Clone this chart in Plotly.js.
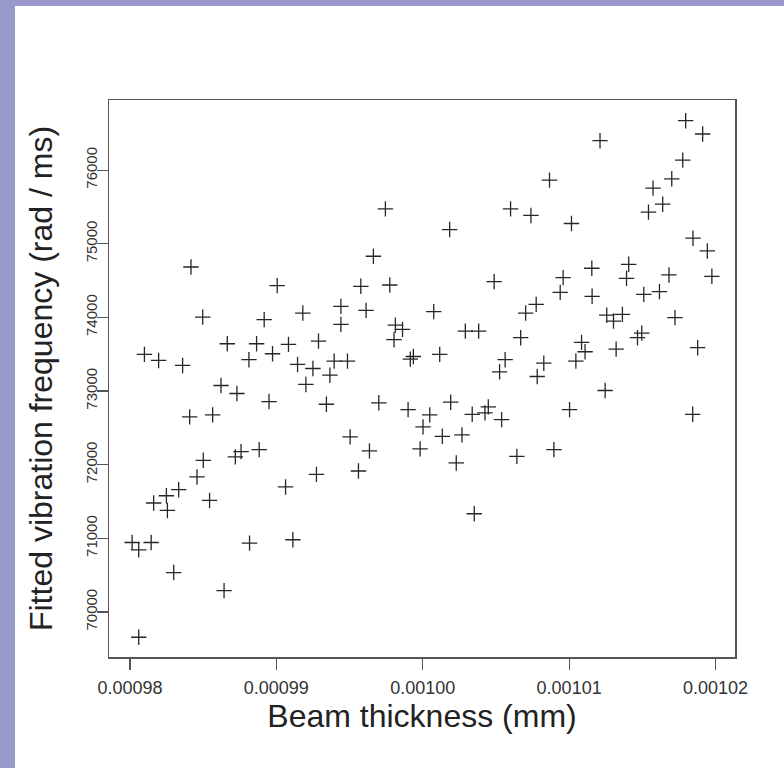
<!DOCTYPE html>
<html>
<head>
<meta charset="utf-8">
<script src="https://cdn.plot.ly/plotly-3.0.1.min.js"></script>
<style>
  html, body { margin: 0; padding: 0; width: 784px; height: 768px; background: #9999cc; overflow: hidden; }
  #chart { position: absolute; left: 15px; top: 6px; width: 769px; height: 762px; background: #ffffff; }
</style>
</head>
<body>
<div id="chart"></div>
<script>
// Beam thickness (mm)
const thickness = [
  0.00098099, 0.00098196, 0.00098360, 0.00098417, 0.00098497, 0.00098622, 0.00098665, 0.00098731,
  0.00098813, 0.00098865, 0.00098917, 0.00098974, 0.00099006, 0.00099083, 0.00099145, 0.00099181,
  0.00099202, 0.00099250, 0.00099288, 0.00099366, 0.00099395, 0.00099441, 0.00099441, 0.00099486,
  0.00099577, 0.00099613, 0.00099663, 0.00099745, 0.00099775, 0.00099813, 0.00099862, 0.00099804,
  0.00099915, 0.00099936, 0.00100184, 0.00100075, 0.00100116, 0.00100291, 0.00100382, 0.00100488,
  0.00100600, 0.00100739, 0.00100866, 0.00101016, 0.00101211, 0.00101796, 0.00101912, 0.00101776,
  0.00101701, 0.00101573, 0.00101639, 0.00101542, 0.00101846, 0.00101944, 0.00101975, 0.00101682,
  0.00101407, 0.00101392, 0.00101155, 0.00100959, 0.00100939, 0.00101157, 0.00100775, 0.00100703,
  0.00100669, 0.00101510, 0.00101617, 0.00101257, 0.00101303, 0.00101364, 0.00101723, 0.00101496,
  0.00101467, 0.00101085, 0.00101109, 0.00101321, 0.00101878, 0.00100563, 0.00100525, 0.00100827,
  0.00100782, 0.00101046, 0.00101246, 0.00098950, 0.00098408, 0.00098565, 0.00099342, 0.00099700,
  0.00099900, 0.00099504, 0.00099636, 0.00099561, 0.00099274, 0.00099063, 0.00099113, 0.00098817,
  0.00098883, 0.00098720, 0.00098759, 0.00098501, 0.00098458, 0.00098333, 0.00098249, 0.00098162,
  0.00098256, 0.00098544, 0.00098015, 0.00098060, 0.00098145, 0.00098299, 0.00098643, 0.00098060,
  0.00100048, 0.00100191, 0.00100002, 0.00099982, 0.00100134, 0.00100268, 0.00100229, 0.00100338,
  0.00100425, 0.00100448, 0.00100539, 0.00100643, 0.00100896, 0.00101003, 0.00100352, 0.00101844
];
// Fitted vibration frequency (rad / ms)
const frequency = [
  73497, 73415, 73347, 74684, 74004, 73075, 73642, 72966,
  73425, 73642, 73969, 73506, 74431, 73633, 73361, 74059,
  73089, 73306, 73678, 73215, 73406, 74150, 73905, 73406,
  74422, 74095, 74830, 75473, 74440, 73895, 73837, 73697,
  73433, 73469, 75193, 74078, 73497, 73814, 73814, 74486,
  75473, 75384, 75864, 75275, 76399, 76671, 76490, 76136,
  75882, 75755, 75537, 75429, 75075, 74902, 74558, 74576,
  74721, 74531, 74667, 74540, 74340, 74286, 74177, 74059,
  73724, 74313, 74350, 74031, 73950, 74041, 73996, 73786,
  73724, 73660, 73533, 73569, 73588, 73425, 73261, 73378,
  73197, 73406, 73007, 72857, 72649, 72676, 72820, 72840,
  72748, 72377, 72187, 71914, 71868, 71697, 70980, 70935,
  72204, 72105, 72177, 72059, 71833, 71660, 71578, 71479,
  71378, 71514, 70943, 70844, 70943, 70535, 70290, 69656,
  72676, 72848, 72513, 72214, 72385, 72404, 72023, 72684,
  72703, 72785, 72612, 72113, 72204, 72748, 71333, 72684
];
const xTicks = [0.00098, 0.00099, 0.00100, 0.00101, 0.00102];
const xTickText = ["0.00098", "0.00099", "0.00100", "0.00101", "0.00102"];
const yTicks = [70000, 71000, 72000, 73000, 74000, 75000, 76000];
const yTickText = ["70000", "71000", "72000", "73000", "74000", "75000", "76000"];

const trace = {
  type: 'scatter',
  mode: 'markers',
  x: thickness,
  y: frequency,
  marker: { symbol: 'cross-thin-open', size: 11, color: '#262626', line: { width: 1.3, color: '#262626' } },
  hoverinfo: 'x+y'
};

const FONT = 'Liberation Sans, Arial, sans-serif';
const axisCommon = {
  showgrid: false,
  zeroline: false,
  showline: true,
  mirror: true,
  linecolor: '#555555',
  linewidth: 1.5,
  ticks: 'outside',
  ticklen: 11,
  tickwidth: 1.2,
  tickcolor: '#555555',
  automargin: false
};

const layout = {
  width: 769,
  height: 762,
  margin: { l: 94, r: 49, t: 94, b: 111, pad: 0 },
  paper_bgcolor: '#ffffff',
  plot_bgcolor: '#ffffff',
  showlegend: false,
  xaxis: Object.assign({}, axisCommon, {
    range: [0.00097857, 0.00102133],
    tickvals: xTicks,
    ticktext: xTickText,
    tickfont: { family: FONT, size: 18, color: '#333333' },
    ticklabelstandoff: 3,
    title: { text: 'Beam thickness (mm)', font: { family: FONT, size: 32, color: '#222222' }, standoff: 7 }
  }),
  yaxis: Object.assign({}, axisCommon, {
    range: [69388, 76952],
    tickvals: yTicks,
    ticktext: yTickText,
    tickangle: -90,
    tickfont: { family: FONT, size: 15, color: '#333333' },
    ticklabelstandoff: -6,
    title: { text: 'Fitted vibration frequency (rad / ms)', font: { family: FONT, size: 32, color: '#222222' }, standoff: 20 }
  })
};

Plotly.newPlot('chart', [trace], layout, { displayModeBar: false, staticPlot: true });
</script>
</body>
</html>
